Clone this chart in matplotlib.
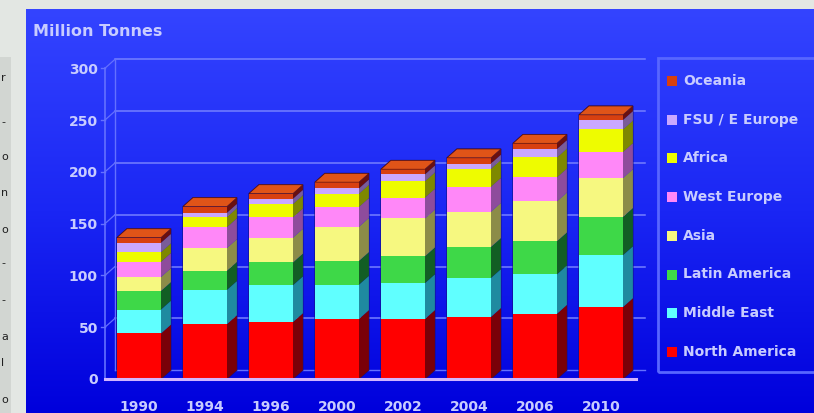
import numpy as np
import matplotlib.pyplot as plt
from matplotlib.patches import Rectangle, Polygon
from matplotlib.colors import LinearSegmentedColormap

years = ['1990', '1994', '1996', '2000', '2002', '2004', '2006', '2010']

# stacked from the floor up
north_america = [44, 53, 55, 58, 58, 60, 63, 69.5]
middle_east = [23, 33, 35.5, 33, 34.5, 37.5, 38, 50]
latin_america = [18, 18.5, 22, 23, 26, 30, 32, 37]
asia = [13.5, 22, 24, 33, 36.5, 34, 38.5, 37.5]
west_europe = [14.5, 20, 19.5, 19, 20, 24, 23, 25]
africa = [9.5, 10, 13, 13, 16, 17.5, 19.5, 22]
fsu_e_europe = [9, 4, 5, 5, 6.5, 5, 8, 9]
oceania = [5, 6, 5, 6, 5, 5.5, 5.5, 5]

series = [north_america, middle_east, latin_america, asia,
          west_europe, africa, fsu_e_europe, oceania]
names = ['North America', 'Middle East', 'Latin America', 'Asia',
         'West Europe', 'Africa', 'FSU / E Europe', 'Oceania']
front_cols = ['#ff0000', '#60ffff', '#3ed848', '#f6f880',
              '#ff88f8', '#eefc00', '#caa8ff', '#d84010']
side_cols = ['#7a0008', '#1f8aa0', '#125e24', '#8c8c48',
             '#8e4c9c', '#7e8800', '#7a5c98', '#6a1010']
top_col = '#e05418'

TXT = '#c8ccff'
FONT = 'DejaVu Sans'
W, H = 814, 413


def fx(px):
    return px / W


def fy(py):
    return 1 - py / H


fig = plt.figure(figsize=(W / 100, H / 100), dpi=100)
fig.patch.set_facecolor('#e3e7e3')

# scrap of neighbouring page on the left
fig.patches.append(Rectangle((0, 0), fx(11), fy(57), transform=fig.transFigure,
                             facecolor='#d2d6d2', edgecolor='none'))
for ch, py in zip(['r', '-', 'o', 'n', 'o', '-', '-', 'a', 'l', 'o'],
                  [78, 122, 157, 193, 230, 263, 300, 337, 363, 400]):
    fig.text(fx(1), fy(py), ch, ha='left', va='center', fontsize=8,
             color='#202020', family=FONT)

# blue panel with gradient
bg = fig.add_axes([fx(26), 0, 1 - fx(26), fy(9)])
grad = LinearSegmentedColormap.from_list('g', ['#3444ff', '#1a26f4', '#0000dc'])
bg.imshow(np.linspace(0, 1, 256).reshape(-1, 1), aspect='auto', cmap=grad,
          extent=[0, 1, 0, 1], origin='upper')
bg.set_axis_off()

# plot area: bar i centred at px 139 + 66 i, value 0 at px 379, 1.036 px per unit
ax = fig.add_axes([fx(100), fy(395), 550 / W, 355 / H])
ax.patch.set_alpha(0)
ax.set_xlim(-39 / 66, 511 / 66)
ax.set_ylim((379 - 395) / 1.036, (379 - 40) / 1.036)
for s in ax.spines.values():
    s.set_visible(False)

dx, dy = 0.15, 8.5
x_front = -0.515
x_right = (645 - 139) / 66
wall = '#6470ff'

# back wall grid
for v in range(50, 301, 50):
    ax.plot([x_front + dx, x_right], [v + dy, v + dy], color='#7580ff', lw=1.1, zorder=1)
    ax.plot([x_front, x_front + dx], [v, v + dy], color=wall, lw=0.9, zorder=1)
    ax.plot([x_front - 0.06, x_front], [v, v], color=wall, lw=1, zorder=1)
ax.plot([x_front, x_front], [0, 300], color=wall, lw=1.2, zorder=1)
ax.plot([x_front + dx, x_front + dx], [dy, 300 + dy], color=wall, lw=1, zorder=1)
ax.plot([x_front + dx, x_right], [dy, dy], color=wall, lw=1, zorder=1)

# bars with a fake 3-D look
w = 44 / 66
for i in range(len(years)):
    base = 0
    for k, vals in enumerate(series):
        v = vals[i]
        ax.add_patch(Rectangle((i - w / 2, base), w, v, facecolor=front_cols[k],
                               edgecolor='none', zorder=3))
        ax.add_patch(Polygon([(i + w / 2, base), (i + w / 2 + dx, base + dy),
                              (i + w / 2 + dx, base + v + dy), (i + w / 2, base + v)],
                             closed=True, facecolor=side_cols[k], edgecolor='none', zorder=3))
        base += v
    ax.add_patch(Polygon([(i - w / 2, base), (i - w / 2 + dx, base + dy),
                          (i + w / 2 + dx, base + dy), (i + w / 2, base)],
                         closed=True, facecolor=top_col, edgecolor='#5a1010', lw=0.5, zorder=3))
    l, r = i - w / 2, i + w / 2
    ax.add_patch(Polygon([(l, 0), (l, base), (l + dx, base + dy), (r + dx, base + dy),
                          (r + dx, dy), (r, 0)], closed=True, fill=False,
                         edgecolor='#14107a', lw=0.8, zorder=2))

# floor front edge
ax.plot([x_front, (636 - 139) / 66], [0, 0], color='#d2b4ff', lw=2.2, zorder=4)

ax.set_yticks(range(0, 301, 50))
ax.set_xticks(range(len(years)), years)
ax.tick_params(axis='y', length=0, pad=1.5, labelcolor=TXT, labelsize=10)
ax.tick_params(axis='x', length=0, pad=3.5, labelcolor=TXT, labelsize=10)
for lab in ax.get_xticklabels() + ax.get_yticklabels():
    lab.set_fontweight('bold')
    lab.set_family(FONT)

fig.text(fx(33), fy(31), 'Million Tonnes', ha='left', va='center', fontsize=11.5,
         fontweight='bold', color=TXT, family=FONT)

# legend, drawn by hand so the box runs off the right edge
fig.patches.append(Rectangle((fx(658), fy(372)), fx(200), (372 - 58) / H,
                             transform=fig.transFigure, fill=False,
                             edgecolor='#5866ff', lw=2))
for k in range(len(names)):
    row = len(names) - 1 - k
    py = 81 + 38.7 * row
    fig.patches.append(Rectangle((fx(667), fy(py + 5)), fx(10), 10 / H,
                                 transform=fig.transFigure, facecolor=front_cols[k],
                                 edgecolor='none'))
    fig.text(fx(683), fy(py), names[k], ha='left', va='center', fontsize=10,
             fontweight='bold', color=TXT, family=FONT)

fig.savefig('out.png', dpi=100)
